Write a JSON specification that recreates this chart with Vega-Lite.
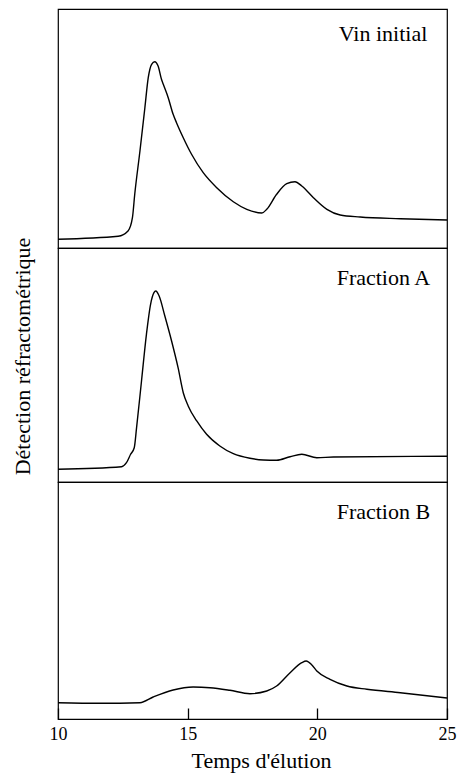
{
  "$schema": "https://vega.github.io/schema/vega-lite/v6.json",
  "background": "white",
  "padding": {"left": 10, "top": 8, "right": 10, "bottom": 5},
  "spacing": 0,
  "bounds": "flush",
  "config": {
    "view": {"stroke": "#000", "strokeWidth": 1.2},
    "font": "Liberation Serif",
    "axis": {"grid": false}
  },
  "datasets": {
    "curves": [
      {"series": "Vin initial", "t": 10.00, "v": 3.64},
      {"series": "Vin initial", "t": 12.32, "v": 4.90},
      {"series": "Vin initial", "t": 12.70, "v": 7.11},
      {"series": "Vin initial", "t": 12.87, "v": 12.68},
      {"series": "Vin initial", "t": 12.96, "v": 22.59},
      {"series": "Vin initial", "t": 13.16, "v": 40.59},
      {"series": "Vin initial", "t": 13.35, "v": 58.70},
      {"series": "Vin initial", "t": 13.48, "v": 71.26},
      {"series": "Vin initial", "t": 13.61, "v": 76.86},
      {"series": "Vin initial", "t": 13.73, "v": 77.95},
      {"series": "Vin initial", "t": 13.86, "v": 76.15},
      {"series": "Vin initial", "t": 13.99, "v": 70.59},
      {"series": "Vin initial", "t": 14.06, "v": 68.49},
      {"series": "Vin initial", "t": 14.25, "v": 62.89},
      {"series": "Vin initial", "t": 14.44, "v": 55.94},
      {"series": "Vin initial", "t": 14.57, "v": 52.43},
      {"series": "Vin initial", "t": 14.83, "v": 46.15},
      {"series": "Vin initial", "t": 15.15, "v": 39.21},
      {"series": "Vin initial", "t": 15.60, "v": 31.51},
      {"series": "Vin initial", "t": 16.12, "v": 25.23},
      {"series": "Vin initial", "t": 16.76, "v": 19.37},
      {"series": "Vin initial", "t": 17.28, "v": 16.19},
      {"series": "Vin initial", "t": 17.86, "v": 14.64},
      {"series": "Vin initial", "t": 18.05, "v": 16.19},
      {"series": "Vin initial", "t": 18.43, "v": 22.47},
      {"series": "Vin initial", "t": 18.82, "v": 26.90},
      {"series": "Vin initial", "t": 19.14, "v": 27.74},
      {"series": "Vin initial", "t": 19.40, "v": 25.94},
      {"series": "Vin initial", "t": 19.85, "v": 21.05},
      {"series": "Vin initial", "t": 20.37, "v": 16.19},
      {"series": "Vin initial", "t": 20.88, "v": 13.81},
      {"series": "Vin initial", "t": 21.65, "v": 12.97},
      {"series": "Vin initial", "t": 23.20, "v": 12.26},
      {"series": "Vin initial", "t": 25.00, "v": 11.72},

      {"series": "Fraction A", "t": 10.00, "v": 5.43},
      {"series": "Fraction A", "t": 12.45, "v": 6.54},
      {"series": "Fraction A", "t": 12.64, "v": 8.25},
      {"series": "Fraction A", "t": 12.80, "v": 11.84},
      {"series": "Fraction A", "t": 12.94, "v": 14.66},
      {"series": "Fraction A", "t": 13.03, "v": 23.21},
      {"series": "Fraction A", "t": 13.22, "v": 43.16},
      {"series": "Fraction A", "t": 13.41, "v": 63.12},
      {"series": "Fraction A", "t": 13.57, "v": 75.94},
      {"series": "Fraction A", "t": 13.70, "v": 80.90},
      {"series": "Fraction A", "t": 13.77, "v": 81.62},
      {"series": "Fraction A", "t": 13.90, "v": 79.49},
      {"series": "Fraction A", "t": 14.12, "v": 70.94},
      {"series": "Fraction A", "t": 14.38, "v": 60.26},
      {"series": "Fraction A", "t": 14.63, "v": 48.85},
      {"series": "Fraction A", "t": 14.83, "v": 38.16},
      {"series": "Fraction A", "t": 15.02, "v": 32.48},
      {"series": "Fraction A", "t": 15.35, "v": 26.07},
      {"series": "Fraction A", "t": 15.73, "v": 20.38},
      {"series": "Fraction A", "t": 16.24, "v": 15.38},
      {"series": "Fraction A", "t": 16.76, "v": 12.09},
      {"series": "Fraction A", "t": 17.40, "v": 10.13},
      {"series": "Fraction A", "t": 17.92, "v": 9.40},
      {"series": "Fraction A", "t": 18.43, "v": 9.27},
      {"series": "Fraction A", "t": 18.95, "v": 10.81},
      {"series": "Fraction A", "t": 19.40, "v": 11.84},
      {"series": "Fraction A", "t": 19.98, "v": 10.38},
      {"series": "Fraction A", "t": 20.62, "v": 10.68},
      {"series": "Fraction A", "t": 25.00, "v": 10.98},

      {"series": "Fraction B", "t": 10.00, "v": 6.88},
      {"series": "Fraction B", "t": 11.61, "v": 6.62},
      {"series": "Fraction B", "t": 13.16, "v": 6.88},
      {"series": "Fraction B", "t": 13.67, "v": 9.28},
      {"series": "Fraction B", "t": 14.44, "v": 12.24},
      {"series": "Fraction B", "t": 15.21, "v": 13.50},
      {"series": "Fraction B", "t": 15.86, "v": 13.21},
      {"series": "Fraction B", "t": 16.63, "v": 12.11},
      {"series": "Fraction B", "t": 17.40, "v": 10.68},
      {"series": "Fraction B", "t": 18.05, "v": 11.81},
      {"series": "Fraction B", "t": 18.43, "v": 13.92},
      {"series": "Fraction B", "t": 18.95, "v": 19.54},
      {"series": "Fraction B", "t": 19.40, "v": 23.76},
      {"series": "Fraction B", "t": 19.57, "v": 24.47},
      {"series": "Fraction B", "t": 19.79, "v": 22.78},
      {"series": "Fraction B", "t": 19.98, "v": 20.25},
      {"series": "Fraction B", "t": 20.49, "v": 16.75},
      {"series": "Fraction B", "t": 21.14, "v": 13.92},
      {"series": "Fraction B", "t": 21.91, "v": 12.53},
      {"series": "Fraction B", "t": 23.20, "v": 11.10},
      {"series": "Fraction B", "t": 25.00, "v": 8.86}
    ],
    "labels": [
      {"series": "Vin initial"},
      {"series": "Fraction A"},
      {"series": "Fraction B"}
    ]
  },
  "vconcat": [
    {
      "width": 389,
      "height": 239,
      "layer": [
        {
          "data": {"name": "curves"},
          "transform": [{"filter": "datum.series === 'Vin initial'"}],
          "mark": {"type": "line", "color": "#000", "strokeWidth": 1.4, "interpolate": "monotone"},
          "encoding": {
            "x": {"field": "t", "type": "quantitative", "scale": {"domain": [10, 25], "nice": false, "zero": false}, "axis": null},
            "y": {"field": "v", "type": "quantitative", "scale": {"domain": [0, 100], "nice": false}, "axis": null}
          }
        },
        {
          "data": {"name": "labels"},
          "transform": [{"filter": "datum.series === 'Vin initial'"}],
          "mark": {"type": "text", "align": "right", "baseline": "alphabetic", "fontSize": 22, "font": "Liberation Serif", "color": "#000"},
          "encoding": {
            "x": {"datum": 24.24, "type": "quantitative"},
            "y": {"datum": 86.6, "type": "quantitative"},
            "text": {"field": "series"}
          }
        }
      ]
    },
    {
      "width": 389,
      "height": 234,
      "layer": [
        {
          "data": {"name": "curves"},
          "transform": [{"filter": "datum.series === 'Fraction A'"}],
          "mark": {"type": "line", "color": "#000", "strokeWidth": 1.4, "interpolate": "monotone"},
          "encoding": {
            "x": {"field": "t", "type": "quantitative", "scale": {"domain": [10, 25], "nice": false, "zero": false}, "axis": null},
            "y": {"field": "v", "type": "quantitative", "scale": {"domain": [0, 100], "nice": false},
              "axis": {"title": "Détection réfractométrique", "labels": false, "ticks": false, "domain": false, "titleFont": "Liberation Serif", "titleFontSize": 22, "titleFontWeight": "normal", "titleColor": "#000", "titlePadding": 24, "titleY": 108}}
          }
        },
        {
          "data": {"name": "labels"},
          "transform": [{"filter": "datum.series === 'Fraction A'"}],
          "mark": {"type": "text", "align": "right", "baseline": "alphabetic", "fontSize": 22, "font": "Liberation Serif", "color": "#000"},
          "encoding": {
            "x": {"datum": 24.35, "type": "quantitative"},
            "y": {"datum": 84.2, "type": "quantitative"},
            "text": {"field": "series"}
          }
        }
      ]
    },
    {
      "width": 389,
      "height": 237,
      "layer": [
        {
          "data": {"name": "curves"},
          "transform": [{"filter": "datum.series === 'Fraction B'"}],
          "mark": {"type": "line", "color": "#000", "strokeWidth": 1.4, "interpolate": "monotone"},
          "encoding": {
            "x": {"field": "t", "type": "quantitative", "scale": {"domain": [10, 25], "nice": false, "zero": false},
              "axis": {"title": "Temps d'élution", "values": [10, 15, 20, 25], "format": "d", "domain": false, "ticks": true, "tickSize": -11, "tickColor": "#000", "tickWidth": 1.3, "tickOpacity": 1, "zindex": 1, "labelFlush": false, "labelFont": "Liberation Serif", "labelFontSize": 18, "labelColor": "#000", "labelPadding": 17, "titleFont": "Liberation Serif", "titleFontSize": 22, "titleFontWeight": "normal", "titleColor": "#000", "titlePadding": 7, "titleX": 203}},
            "y": {"field": "v", "type": "quantitative", "scale": {"domain": [0, 100], "nice": false}, "axis": null}
          }
        },
        {
          "data": {"name": "labels"},
          "transform": [{"filter": "datum.series === 'Fraction B'"}],
          "mark": {"type": "text", "align": "right", "baseline": "alphabetic", "fontSize": 22, "font": "Liberation Serif", "color": "#000"},
          "encoding": {
            "x": {"datum": 24.35, "type": "quantitative"},
            "y": {"datum": 84.4, "type": "quantitative"},
            "text": {"field": "series"}
          }
        }
      ]
    }
  ]
}
